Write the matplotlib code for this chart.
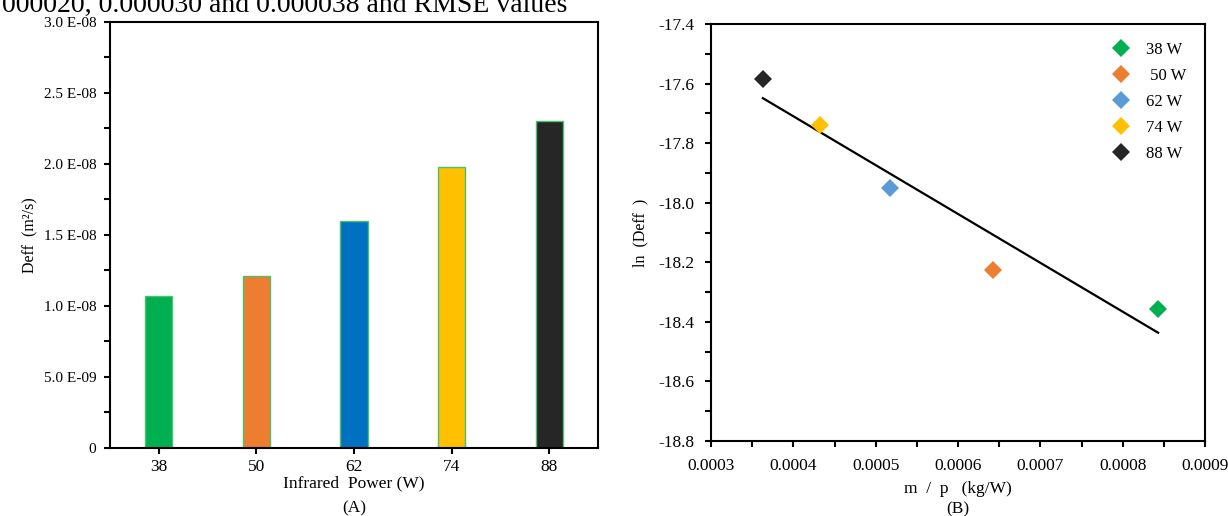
import matplotlib

matplotlib.use("Agg")
import matplotlib.pyplot as plt
import numpy as np
from matplotlib.ticker import MultipleLocator

plt.rcParams["font.family"] = ["Liberation Serif", "DejaVu Serif"]

# panel (A): effective diffusivity per infrared power
powers = ["38", "50", "62", "74", "88"]
deff = [1.07e-8, 1.21e-8, 1.60e-8, 1.98e-8, 2.30e-8]
bar_colors = ["#00B050", "#ED7D31", "#0070C0", "#FFC000", "#262626"]
deff_ticks = [0, 5e-9, 1e-8, 1.5e-8, 2e-8, 2.5e-8, 3e-8]
deff_tick_labels = ["0", "5.0 E-09", "1.0 E-08", "1.5 E-08", "2.0 E-08", "2.5 E-08", "3.0 E-08"]

# panel (B): ln(Deff) against m/p
legend_labels = ["38 W", " 50 W", "62 W", "74 W", "88 W"]
mass_power = [0.000843, 0.000642, 0.000517, 0.000432, 0.000363]
ln_deff = [-18.355, -18.225, -17.95, -17.74, -17.585]
point_colors = ["#00B050", "#ED7D31", "#5B9BD5", "#FFC000", "#262626"]

fig = plt.figure(figsize=(12.28, 5.16), dpi=100)

# cropped line of body text from the page above the figure
fig.text(0.002, 0.977, "000020, 0.000030 and 0.000038 and RMSE values",
         fontsize=20, va="baseline", ha="left", color="#000000")

ax1 = fig.add_axes([0.0896, 0.1318, 0.3974, 0.8256])
x = np.arange(len(powers))
ax1.bar(x, deff, width=0.28, color=bar_colors, edgecolor="#4CC06A", linewidth=1.0, zorder=2)
ax1.set_xlim(-0.5, len(powers) - 0.5)
ax1.set_ylim(0, 3e-8)
ax1.set_xticks(x)
ax1.set_xticklabels(powers)
ax1.set_yticks(deff_ticks)
ax1.set_yticklabels(deff_tick_labels)
ax1.yaxis.set_minor_locator(MultipleLocator(2.5e-9))
ax1.tick_params(axis="y", which="major", direction="out", length=4, width=1.5, labelsize=11, pad=6)
ax1.tick_params(axis="y", which="minor", direction="out", length=4, width=1.5)
ax1.tick_params(axis="x", which="major", direction="out", length=4, width=1.5, labelsize=12.5, pad=4)
ax1.set_xlabel("Infrared  Power (W)", fontsize=12.5, labelpad=0)
ax1.set_ylabel("Deff  (m²/s)", fontsize=11.5, labelpad=4)
ax1.text(0.5, -0.141, "(A)", transform=ax1.transAxes, ha="center", va="center", fontsize=12.5)

ax2 = fig.add_axes([0.579, 0.1453, 0.4023, 0.808])
for xv, yv, c, lab in zip(mass_power, ln_deff, point_colors, legend_labels):
    ax2.plot([xv], [yv], linestyle="none", marker="D", markersize=9, color=c,
             markeredgewidth=0, label=lab, zorder=3)
slope, intercept = np.polyfit(mass_power, ln_deff, 1)
fit_x = np.array([min(mass_power), max(mass_power)])
ax2.plot(fit_x, slope * fit_x + intercept, color="black", linewidth=1.6, zorder=2)
ax2.set_xlim(0.0003, 0.0009)
ax2.set_ylim(-18.8, -17.4)
ax2.xaxis.set_major_locator(MultipleLocator(0.0001))
ax2.xaxis.set_minor_locator(MultipleLocator(0.00005))
ax2.yaxis.set_major_locator(MultipleLocator(0.2))
ax2.yaxis.set_minor_locator(MultipleLocator(0.1))
ax2.xaxis.set_major_formatter(lambda v, pos: f"{v:.4f}")
ax2.yaxis.set_major_formatter(lambda v, pos: f"{v:.1f}")
ax2.tick_params(axis="both", which="both", direction="out", length=4, width=1.5)
ax2.tick_params(axis="both", which="major", labelsize=12.5, pad=8)
ax2.set_xlabel("m  /  p   (kg/W)", fontsize=12.5, labelpad=5)
ax2.set_ylabel("ln  (Deff  )", fontsize=11.5, labelpad=7)
ax2.text(0.5, -0.163, "(B)", transform=ax2.transAxes, ha="center", va="center", fontsize=12.5)
ax2.legend(loc="upper right", bbox_to_anchor=(0.985, 0.985), frameon=False, fontsize=12,
           handlelength=1.0, handletextpad=1.0, labelspacing=0.6, borderaxespad=0.3)

for ax in (ax1, ax2):
    for spine in ax.spines.values():
        spine.set_linewidth(1.5)
        spine.set_color("black")

fig.savefig("out.png", dpi=100)
